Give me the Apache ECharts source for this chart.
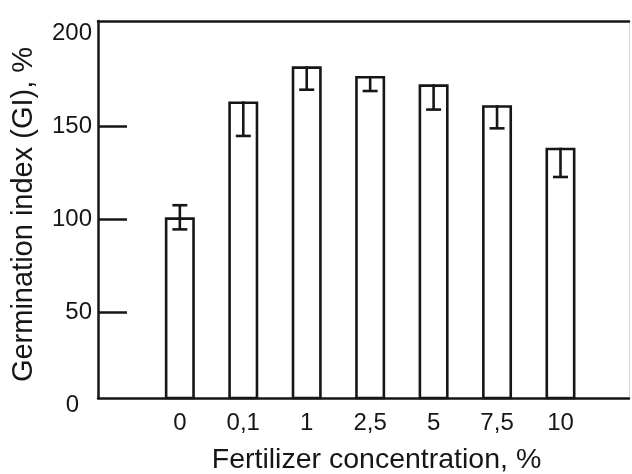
<!DOCTYPE html>
<html><head><meta charset="utf-8">
<script src="https://cdn.jsdelivr.net/npm/echarts@6/dist/echarts.min.js"></script>
<style>html,body{margin:0;padding:0;background:#fff}#c{width:632px;height:474px}</style>
</head><body><div id="c"></div>
<script>
// Data
const categories = ['0', '0,1', '1', '2,5', '5', '7,5', '10'];
const giValues   = [101, 163.4, 182.3, 177.1, 172.6, 161.4, 138.5];
const errLower   = [6.5, 18.6, 12.6, 8.1, 13.6, 12.5, 15.8];
const errUpper   = [6.5, 0, 0, 0, 0, 0, 0];
const yTickLabels = [0, 50, 100, 150, 200];
const yInnerTicks = [50, 100, 150];

const Y_MIN = 3.7, Y_MAX = 206.7;
const X_MIN = -1.29, X_MAX = 7.08;
const FONT = '"Liberation Sans", Arial, sans-serif';
const INK = '#161616';

const catIdx = categories.map((c, i) => i);
const barData = giValues.map((v, i) => [i, v]);
const errData = giValues.map((v, i) => [i, v, errLower[i], errUpper[i]]);
const yLabelPos = yTickLabels.map(v => Math.min(Math.max(v, Y_MIN), Y_MAX));

function nearestTick(v) {
  let best = yTickLabels[0];
  yTickLabels.forEach(t => { if (Math.abs(t - v) < Math.abs(best - v)) best = t; });
  return best;
}

const chart = echarts.init(document.getElementById('c'), null, {renderer: 'canvas'});
chart.setOption({
  animation: false,
  backgroundColor: '#fff',
  grid: {left: 98, right: 3, top: 21, bottom: 76, containLabel: false, outerBoundsMode: 'none'},
  xAxis: [{
    type: 'value', min: X_MIN, max: X_MAX, position: 'bottom',
    axisLine: {show: true, onZero: false, lineStyle: {color: INK, width: 2.5}},
    axisTick: {show: false},
    splitLine: {show: false},
    axisLabel: {
      customValues: catIdx, margin: 13,
      formatter: v => categories[Math.round(v)],
      fontFamily: FONT, fontSize: 24, color: INK
    },
    name: 'Fertilizer concentration, %', nameLocation: 'middle', nameGap: 48,
    nameTextStyle: {fontFamily: FONT, fontSize: 28.5, color: INK, padding: [0, 0, 0, 26]}
  }, {
    type: 'value', min: X_MIN, max: X_MAX, position: 'top',
    axisLine: {show: true, onZero: false, lineStyle: {color: INK, width: 2.5}},
    axisTick: {show: false}, axisLabel: {show: false}, splitLine: {show: false}
  }],
  yAxis: [{
    type: 'value', min: Y_MIN, max: Y_MAX, position: 'left',
    axisLine: {show: true, onZero: false, lineStyle: {color: INK, width: 2.5}},
    axisTick: {show: true, inside: true, length: 29, customValues: yInnerTicks,
               lineStyle: {color: INK, width: 2.5}},
    splitLine: {show: false},
    axisLabel: {
      customValues: yLabelPos, margin: 6,
      formatter: v => { const t = nearestTick(v); return t === 0 ? '{z|' + t + '}' : String(t); },
      fontFamily: FONT, fontSize: 24, color: INK,
      rich: {z: {fontFamily: FONT, fontSize: 24, color: INK, padding: [14, 13, 0, 0]}}
    },
    name: 'Germination index (GI), %', nameLocation: 'middle', nameGap: 60, nameRotate: 90,
    nameTextStyle: {fontFamily: FONT, fontSize: 29, color: INK, padding: [0, 10, 0, 0]}
  }, {
    type: 'value', min: Y_MIN, max: Y_MAX, position: 'right',
    axisLine: {show: true, onZero: false, lineStyle: {color: '#d4d4d4', width: 1}},
    axisTick: {show: false}, axisLabel: {show: false}, splitLine: {show: false}
  }],
  series: [{
    type: 'bar', xAxisIndex: 0, yAxisIndex: 0,
    data: barData, barWidth: 30, clip: true,
    itemStyle: {color: '#fff', borderColor: INK, borderWidth: 2.6},
    z: 2
  }, {
    type: 'custom', xAxisIndex: 0, yAxisIndex: 0,
    data: errData, z: 3,
    renderItem: (params, api) => {
      const x = api.value(0), v = api.value(1), lo = api.value(2), hi = api.value(3);
      const pTop = api.coord([x, v + hi]);
      const pBot = api.coord([x, v - lo]);
      const half = 7.5;
      const style = {stroke: INK, lineWidth: 2.6};
      const kids = [
        {type: 'line', shape: {x1: pTop[0], y1: pTop[1], x2: pBot[0], y2: pBot[1]}, style},
        {type: 'line', shape: {x1: pBot[0] - half, y1: pBot[1], x2: pBot[0] + half, y2: pBot[1]}, style}
      ];
      if (hi > 0) kids.push({type: 'line', shape: {x1: pTop[0] - half, y1: pTop[1], x2: pTop[0] + half, y2: pTop[1]}, style});
      return {type: 'group', children: kids};
    }
  }]
});
</script>
</body></html>
